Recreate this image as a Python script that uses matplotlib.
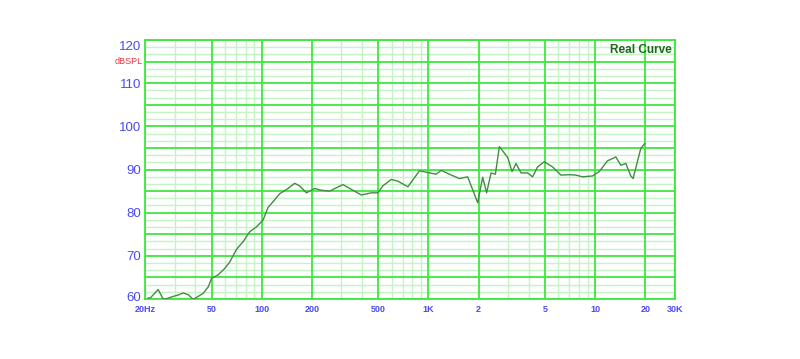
import numpy as np
import matplotlib
matplotlib.use("Agg")
import matplotlib.pyplot as plt
from matplotlib.transforms import ScaledTranslation

plt.rcParams["font.family"] = ["Liberation Sans", "DejaVu Sans"]

# Data (frequency in Hz, level in dB SPL)
freq_hz = [20.8, 21.5, 23.9, 25.6, 26.9, 29.4, 31.4, 33.8, 36.2, 38.8, 41.5, 44.5,
           47.7, 50.0, 54.7, 60.0, 64.3, 70.5, 77.3, 84.7, 92.9, 101.8, 109, 119.6,
           128.1, 143.6, 157.5, 168.8, 185.2, 207.6, 227.6, 255.4, 306.7, 352, 395,
           454, 497, 532, 598, 655, 752, 883, 1111, 1191, 1336, 1532, 1718, 1973,
           2114, 2233, 2373, 2519, 2662, 2986, 3171, 3351, 3591, 3930, 4212, 4513,
           4948, 5548, 6231, 6985, 7658, 8391, 9635, 10567, 11846, 13296, 14250,
           15270, 16355, 16883, 18777, 19835]
level_db = [60.2, 60.3, 62.2, 60.0, 60.1, 60.6, 60.9, 61.4, 61.0, 59.9, 60.6, 61.3,
            62.8, 64.8, 65.6, 67.1, 68.6, 71.5, 73.3, 75.6, 76.7, 78.3, 81.2, 83.0,
            84.4, 85.6, 86.8, 86.2, 84.6, 85.6, 85.2, 85.0, 86.5, 85.2, 84.1,
            84.6, 84.6, 86.2, 87.7, 87.3, 86.0, 89.7, 88.9, 89.8, 88.9, 87.9, 88.3, 82.3,
            88.2, 84.6, 89.2, 88.9, 95.3, 92.8, 89.5, 91.4, 89.2, 89.2, 88.3, 90.6,
            91.8, 90.6, 88.7, 88.8, 88.7, 88.3, 88.5, 89.5, 92.0, 92.9, 91.0,
            91.4, 88.5, 87.9, 94.9, 96.0]

x_ticks = [20, 50, 100, 200, 500, 1000, 2000, 5000, 10000, 20000, 30000]
x_tick_labels = ["20Hz", "50", "100", "200", "500", "1K", "2", "5", "10", "20", "30K"]
y_ticks = [60, 70, 80, 90, 100, 110, 120]
y_tick_labels = ["60", "70", "80", "90", "100", "110", "120"]

major_green = "#3ee83e"
minor_green = "#c4f4c4"
label_blue = "#4a4af2"

fig = plt.figure(figsize=(8, 3.59), dpi=100)
ax = fig.add_axes([0.1816, 0.1671, 0.6618, 0.7215])
ax.set_xscale("log")
ax.set_xlim(20, 30000)
ax.set_ylim(60, 120)

# minor vertical grid
minor_x = []
for dec in [10, 100, 1000, 10000]:
    for m in range(1, 10):
        v = m * dec
        if 20 < v < 30000 and v not in x_ticks:
            minor_x.append(v)
for v in minor_x:
    ax.axvline(v, color=minor_green, lw=1.0, zorder=1)
# minor horizontal grid
for v in np.arange(60, 120, 5 / 3):
    if abs(v / 5 - round(v / 5)) > 1e-6:
        ax.axhline(v, color=minor_green, lw=1.0, zorder=1)
# major grid
for v in x_ticks:
    ax.axvline(v, color=major_green, lw=1.3, zorder=2)
for v in range(60, 121, 5):
    ax.axhline(v, color=major_green, lw=1.3, zorder=2)

ax.plot(freq_hz, level_db, color="#458a45", lw=1.0, zorder=3)

for s in ax.spines.values():
    s.set_color(major_green)
    s.set_linewidth(1.3)

ax.set_xticks(x_ticks)
ax.set_xticklabels(x_tick_labels, fontsize=6.5, fontweight="bold", color=label_blue)
ax.xaxis.set_minor_locator(matplotlib.ticker.NullLocator())
ax.set_yticks(y_ticks)
ax.set_yticklabels(y_tick_labels, fontsize=9.5, color=label_blue)
ax.tick_params(length=0, pad=3)
ax.tick_params(axis="x", pad=4)
lbl = ax.get_yticklabels()
lbl[-1].set_transform(lbl[-1].get_transform() + ScaledTranslation(0, -4 / 72, fig.dpi_scale_trans))
lbl[0].set_transform(lbl[0].get_transform() + ScaledTranslation(0, 2 / 72, fig.dpi_scale_trans))

ax.text(-0.005, 115, "dBSPL", transform=ax.get_yaxis_transform(), ha="right", va="center",
        fontsize=6.5, color="#ee3344")
ax.text(0.995, 0.985, "Real Curve", transform=ax.transAxes, ha="right", va="top",
        fontsize=8.5, fontweight="bold", color="#1a6a1a")

fig.savefig("out.png", dpi=100, facecolor="white")
